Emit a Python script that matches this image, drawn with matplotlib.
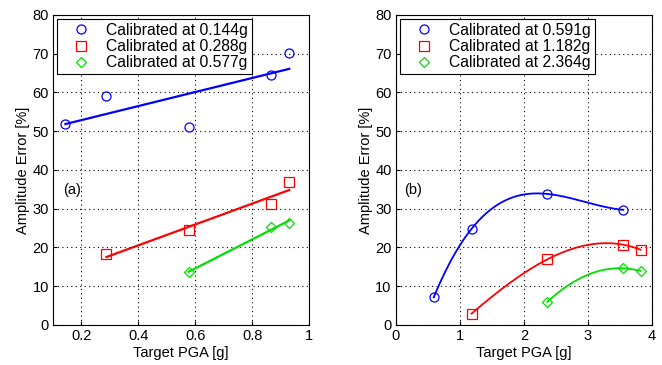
import numpy as np
import matplotlib.pyplot as plt

plt.rcParams.update({
    "font.family": ["Liberation Sans", "DejaVu Sans"],
    "font.size": 10,
})

# (a) low-range calibration
pga_a = [0.144, 0.288, 0.577, 0.866, 0.93]
err_a_144 = [51.8, 59.2, 51.2, 64.6, 70.2]
pga_a_288 = [0.288, 0.577, 0.866, 0.93]
err_a_288 = [18.2, 24.4, 31.2, 36.9]
pga_a_577 = [0.577, 0.866, 0.93]
err_a_577 = [13.6, 25.2, 26.4]
labels_a = ["Calibrated at 0.144g", "Calibrated at 0.288g", "Calibrated at 0.577g"]

# (b) high-range calibration
pga_b_591 = [0.591, 1.182, 2.364, 3.546]
err_b_591 = [7.1, 24.8, 33.8, 29.7]
pga_b_1182 = [1.182, 2.364, 3.546, 3.82]
err_b_1182 = [2.9, 16.9, 20.7, 19.4]
pga_b_2364 = [2.364, 3.546, 3.82]
err_b_2364 = [5.9, 14.6, 13.9]
labels_b = ["Calibrated at 0.591g", "Calibrated at 1.182g", "Calibrated at 2.364g"]

COLORS = ["#0000ff", "#ff0000", "#00e000"]
MARKERS = ["o", "s", "D"]
MSIZES = [6.5, 7.5, 5.5]

fig = plt.figure(figsize=(6.62, 3.65), dpi=100)
ax_a = fig.add_axes([0.080, 0.110, 0.387, 0.849])
ax_b = fig.add_axes([0.598, 0.110, 0.387, 0.849])


def style(ax, xlim, xticks, tag, tag_x):
    ax.set_xlim(*xlim)
    ax.set_ylim(0, 80)
    ax.set_xticks(xticks)
    ax.set_yticks(range(0, 81, 10))
    ax.grid(True, color="black", linestyle=(0, (1, 3)), linewidth=0.8)
    ax.set_axisbelow(True)
    ax.tick_params(direction="in", length=3, labelsize=10.5, pad=3)
    ax.set_xlabel("Target PGA [g]", fontsize=10.5, labelpad=2)
    ax.set_ylabel("Amplitude Error [%]", fontsize=10.5, labelpad=2)
    ax.text(tag_x, 34.8, tag, fontsize=10.5, va="center", ha="left")
    for s in ax.spines.values():
        s.set_linewidth(0.8)


def draw_set(ax, xs, ys, deg, lw):
    # deg=None -> interpolating polynomial through every point
    handles = []
    for i, (x, y) in enumerate(zip(xs, ys)):
        d = deg if deg is not None else len(x) - 1
        coef = np.polyfit(x, y, d)
        xf = np.linspace(min(x), max(x), 200)
        ax.plot(xf, np.polyval(coef, xf), color=COLORS[i], linewidth=lw)
        h, = ax.plot(x, y, linestyle="none", marker=MARKERS[i],
                     markersize=MSIZES[i], markerfacecolor="none",
                     markeredgecolor=COLORS[i], markeredgewidth=0.9)
        handles.append(h)
    return handles


h_a = draw_set(ax_a, [pga_a, pga_a_288, pga_a_577],
               [err_a_144, err_a_288, err_a_577], 1, 1.6)
h_b = draw_set(ax_b, [pga_b_591, pga_b_1182, pga_b_2364],
               [err_b_591, err_b_1182, err_b_2364], None, 1.3)

style(ax_a, (0.1, 1.0), [0.2, 0.4, 0.6, 0.8, 1.0], "(a)", 0.135)
ax_a.set_xticklabels(["0.2", "0.4", "0.6", "0.8", "1"])
style(ax_b, (0, 4), [0, 1, 2, 3, 4], "(b)", 0.13)

for ax, h, lab in [(ax_a, h_a, labels_a), (ax_b, h_b, labels_b)]:
    leg = ax.legend(h, lab, loc="upper left", fontsize=11.3, frameon=True,
                    fancybox=False, borderaxespad=0.25, handlelength=2.6,
                    handletextpad=0.3, labelspacing=0.08, borderpad=0.25)
    leg.get_frame().set_edgecolor("black")
    leg.get_frame().set_linewidth(0.8)
    leg.get_frame().set_alpha(1)

fig.savefig("out.png", dpi=100, facecolor="white")
